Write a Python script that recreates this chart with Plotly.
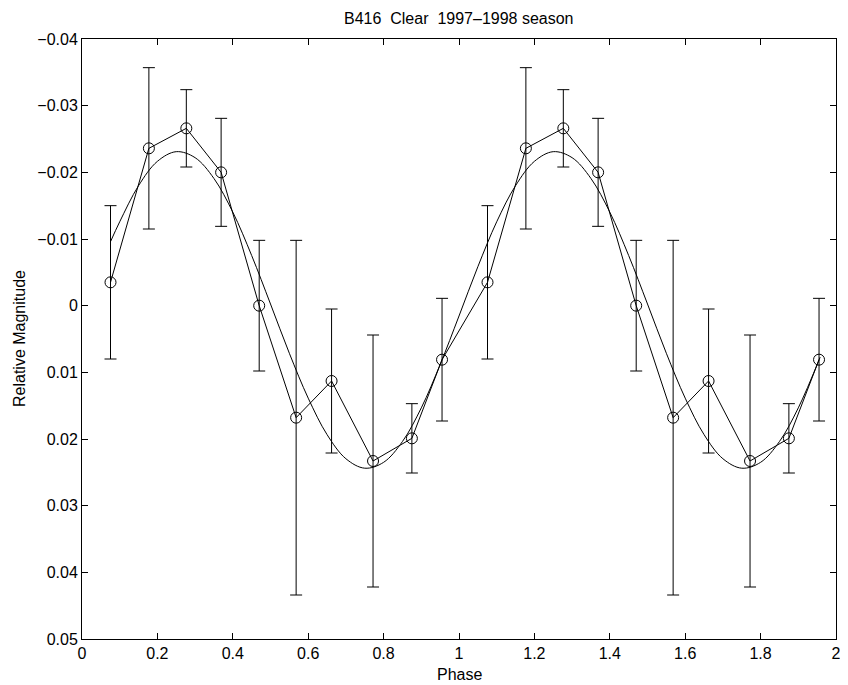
import plotly.graph_objects as go

# One-period phased data
phase = [0.0756, 0.1774, 0.2767, 0.369, 0.470, 0.568, 0.662, 0.772, 0.875, 0.955]
mag = [-0.0035, -0.0236, -0.0266, -0.0200, 0.0000, 0.0168, 0.0113, 0.0233, 0.0199, 0.0081]
err = [0.0115, 0.0121, 0.0058, 0.0081, 0.0098, 0.0266, 0.0108, 0.0189, 0.0052, 0.0092]

# Fitted curve
fit_phase = [0.0756, 0.10, 0.15, 0.20, 0.25, 0.30, 0.35, 0.40, 0.45, 0.50, 0.55, 0.60, 0.65,
             0.70, 0.75, 0.80, 0.85, 0.90, 0.95, 1.00, 1.05, 1.10, 1.15, 1.20, 1.25, 1.30,
             1.35, 1.40, 1.45, 1.50, 1.55, 1.60, 1.65, 1.70, 1.75, 1.80, 1.85, 1.90, 1.958]
fit_mag = [-0.0096, -0.01258, -0.0180, -0.02165, -0.0231, -0.0222, -0.01908, -0.01403, -0.00753,
           -0.00025, 0.00714, 0.01387, 0.01934, 0.02296, 0.02438, 0.0235, 0.02038, 0.01533,
           0.00883, 0.00155, -0.00584, -0.01258, -0.0180, -0.02165, -0.0231, -0.0222, -0.01908,
           -0.01403, -0.00753, -0.00025, 0.00714, 0.01387, 0.01934, 0.02296, 0.02438, 0.0235,
           0.02038, 0.01533, 0.00772]

x_ticks = [0, 0.2, 0.4, 0.6, 0.8, 1, 1.2, 1.4, 1.6, 1.8, 2]
y_ticks = [-0.04, -0.03, -0.02, -0.01, 0, 0.01, 0.02, 0.03, 0.04, 0.05]

title = "B416  Clear  1997\u20131998 season"
x_label = "Phase"
y_label = "Relative Magnitude"

# two cycles
px = phase + [p + 1 for p in phase]
pm = mag + mag
pe = err + err

FONT = "Liberation Sans, Arial, Helvetica, sans-serif"
FS = 16

fig = go.Figure()
fig.add_trace(go.Scatter(
    x=fit_phase, y=fit_mag, mode="lines", line=dict(color="black", width=1, shape="spline"),
    hoverinfo="skip", showlegend=False))
fig.add_trace(go.Scatter(
    x=px, y=pm, mode="lines+markers",
    line=dict(color="black", width=1),
    marker=dict(symbol="circle-open", size=11, color="black", line=dict(width=1, color="black")),
    error_y=dict(type="data", array=pe, visible=True, color="black", thickness=1, width=6),
    showlegend=False))

axis_common = dict(
    showline=True, linecolor="black", linewidth=1, mirror="ticks",
    ticks="inside", ticklen=6, tickcolor="black", tickwidth=1,
    showgrid=False, zeroline=False, ticklabeloverflow="allow",
    tickfont=dict(family=FONT, size=FS, color="black"),
)

fig.update_xaxes(range=[0, 2], tickvals=x_ticks, ticktext=[f"{v:g}" for v in x_ticks],
                 **axis_common)
fig.update_yaxes(range=[0.05, -0.04], tickvals=y_ticks,
                 ticktext=[("\u2212" + f"{abs(v):g}") if v < 0 else f"{v:g}" for v in y_ticks],
                 **axis_common)

# the page body adds an 8px offset, so the figure is sized to the remaining window
fig.update_layout(
    width=840, height=677,
    margin=dict(l=74, r=7, t=31, b=46),
    paper_bgcolor="white", plot_bgcolor="white",
    font=dict(family=FONT, size=FS, color="black"),
    annotations=[
        dict(text=title, xref="paper", yref="paper", x=0.5, y=1, xanchor="center",
             yanchor="middle", yshift=21, showarrow=False, font=dict(family=FONT, size=FS)),
        dict(text=x_label, xref="paper", yref="paper", x=0.5, y=0, xanchor="center",
             yanchor="middle", yshift=-35, showarrow=False, font=dict(family=FONT, size=FS)),
        dict(text=y_label, xref="paper", yref="paper", x=0, y=0.5, xanchor="center",
             yanchor="middle", xshift=-63, textangle=-90, showarrow=False,
             font=dict(family=FONT, size=FS)),
    ],
)

fig.write_html("out.html")
